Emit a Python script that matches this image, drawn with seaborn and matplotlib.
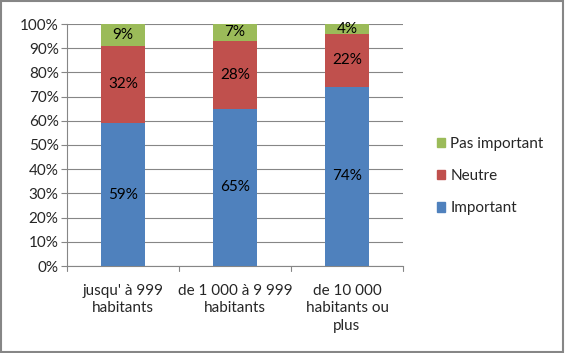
import matplotlib
matplotlib.use('Agg')
import matplotlib.pyplot as plt
import numpy as np
import pandas as pd
import seaborn as sns
from matplotlib.patches import Patch, Rectangle

categories = ['jusqu\' à 999\nhabitants', 'de 1 000 à 9 999\nhabitants', 'de 10 000\nhabitants ou\nplus']
important = [59, 65, 74]
neutre = [32, 28, 22]
pas_important = [9, 7, 4]

series = ['Important', 'Neutre', 'Pas important']
colors = {'Important': '#4F81BD', 'Neutre': '#C0504D', 'Pas important': '#9BBB59'}

df = pd.DataFrame({
    'cat': categories,
    'Important': important,
    'Neutre': neutre,
    'Pas important': pas_important,
})
df['top_neutre'] = df['Important'] + df['Neutre']
df['top_pas'] = df['top_neutre'] + df['Pas important']

sns.set_style('white')
plt.rcParams['font.family'] = ['Lato', 'DejaVu Sans']
FS = 11

fig = plt.figure(figsize=(5.65, 3.53), dpi=100)
ax = fig.add_axes([67 / 565, 1 - 266 / 353, 336 / 565, 242 / 353])

# stacked bars: draw cumulative totals back to front
for col, s in [('top_pas', 'Pas important'), ('top_neutre', 'Neutre'), ('Important', 'Important')]:
    sns.barplot(data=df, x='cat', y=col, color=colors[s], width=0.4, saturation=1,
                ax=ax, linewidth=0, zorder=3)

# labels in segment centers
for i in range(len(categories)):
    bottoms = [0, important[i], important[i] + neutre[i]]
    for b, v in zip(bottoms, [important[i], neutre[i], pas_important[i]]):
        ax.text(i, b + v / 2, f'{v}%', ha='center', va='center', fontsize=FS, color='black', zorder=4)

ax.set_ylim(0, 100)
ax.set_xlim(-0.5, 2.5)
ax.set_yticks(np.arange(0, 101, 10))
ax.set_yticklabels([f'{t}%' for t in range(0, 101, 10)], fontsize=FS)
ax.set_xticks(range(3))
ax.set_xticklabels(categories, fontsize=FS, linespacing=1.3)
ax.tick_params(axis='x', length=0, pad=13)
ax.tick_params(axis='y', length=4, color='#868686', left=True, pad=2)
for t in [-0.5, 0.5, 1.5, 2.5]:
    ax.plot([t, t], [0, -2], color='#868686', lw=0.8, clip_on=False, zorder=5)
ax.set_xlabel('')
ax.set_ylabel('')
ax.yaxis.grid(True, color='#868686', lw=0.8, zorder=0)
ax.set_axisbelow(True)
for side in ['top', 'right']:
    ax.spines[side].set_visible(False)
for side in ['left', 'bottom']:
    ax.spines[side].set_color('#868686')
    ax.spines[side].set_linewidth(0.8)

handles = [Patch(color=colors[s], label=s) for s in reversed(series)]
fig.legend(handles=handles, loc='center left', bbox_to_anchor=(423 / 565, 1 - 176 / 353),
           frameon=False, fontsize=FS, handlelength=0.55, handleheight=0.55,
           handletextpad=0.35, labelspacing=1.2)

fig.patches.append(Rectangle((0.002, 0.003), 0.995, 0.994, transform=fig.transFigure,
                             fill=False, edgecolor='#868686', lw=1.5))

fig.savefig('out.png', dpi=100)
